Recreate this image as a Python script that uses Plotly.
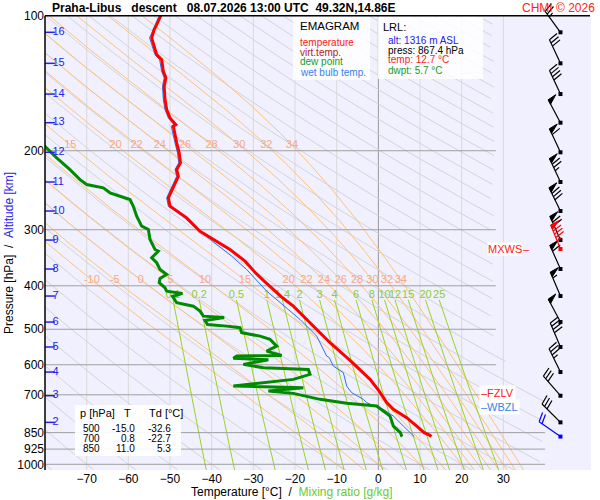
import numpy as np
import plotly.graph_objects as go

FONT = "Liberation Sans, Arial, sans-serif"

# axis frame: x = temperature (degC), y = pressure (hPa, log)
T_MIN, T_MAX = -80.0, 51.03
LOGP_BOTTOM, LOGP_TOP = 3.0127, 1.965

pressure_ticks = [100, 200, 300, 400, 500, 600, 700, 850, 925, 1000]
pressure_lines_upper = [200, 300, 400, 500, 600, 700]
pressure_lines_lower = [850, 925, 1000]
temp_ticks = [-70, -60, -50, -40, -30, -20, -10, 0, 10, 20, 30]
dry_theta = list(range(-80, 320, 10))
wet_theta = [-10, -5, 0, 5, 10, 15, 20, 22, 24, 26, 28, 30, 32, 34]
mix_ratio = [0.1, 0.2, 0.5, 1, 1.4, 2, 3, 4, 6, 8, 10, 12, 15, 20, 25]
mix_labels = ["0.1", "0.2", "0.5", "1", "1.4", "2", "3", "4", "6", "8", "10", "12", "15", "20", "25"]

# altitude scale (km -> hPa)
alt_km = [2, 3, 4, 5, 6, 7, 8, 9, 10, 11, 12, 13, 14, 15, 16]
alt_p = [806.3, 703.3, 622.8, 547.7, 481.8, 421.6, 367.0, 316.3, 272.5, 234.8, 201.6, 173.2, 149.5, 127.7, 108.9]

# sounding
temp_p = [100.0, 102.1, 104.7, 107.4, 112.1, 122.1, 125.3, 133.1, 137.6, 143.7, 153.8, 161.9, 169.0, 174.9,
          176.4, 192.1, 202.2, 212.9, 220.3, 228.0, 241.9, 254.7, 265.9, 270.4, 282.2, 302.3, 318.2, 332.0,
          352.5, 374.2, 390.6, 425.4, 444.1, 459.3, 492.0, 500.0, 535.8, 588.8, 614.4, 646.7, 686.7, 700.0,
          728.8, 754.3, 787.1, 821.7, 850.0, 861.8, 867.4]
temp_t = [-52.2, -52.6, -53.2, -53.8, -54.4, -53.2, -52.0, -51.6, -51.0, -51.4, -51.2, -50.8, -50.0, -48.6,
          -49.2, -48.4, -47.8, -47.5, -48.4, -48.0, -49.2, -50.4, -50.0, -48.8, -46.0, -42.8, -38.8, -35.6,
          -32.0, -29.5, -27.4, -23.0, -20.4, -18.8, -15.6, -15.0, -11.6, -6.6, -4.4, -2.0, 0.2, 0.8,
          2.0, 3.6, 6.8, 9.2, 11.0, 12.4, 12.7]

wetb_p = [100.0, 104.7, 112.1, 122.1, 125.3, 133.1, 137.6, 143.7, 153.8, 161.9, 169.0, 174.9, 176.4, 192.1,
          202.2, 212.9, 220.3, 228.0, 241.9, 254.7, 265.9, 270.4, 282.2, 294.6, 343.6, 367.9, 411.2, 440.2,
          475.4, 517.9, 554.5, 573.8, 578.0, 604.0, 624.8, 646.7, 669.3, 692.4, 716.5, 728.8, 741.6, 754.3,
          780.6, 821.7, 861.8, 867.4]
wetb_t = [-52.6, -53.6, -54.9, -53.6, -52.5, -52.0, -51.4, -51.8, -51.6, -51.2, -50.4, -49.1, -49.7, -48.8,
          -48.2, -47.9, -48.8, -48.4, -49.6, -50.8, -50.4, -49.2, -46.5, -44.4, -35.2, -31.6, -26.8, -23.0,
          -18.8, -14.8, -13.2, -12.4, -11.8, -10.8, -8.4, -8.0, -7.6, -6.4, -3.6, -2.8, -1.0, 1.2,
          3.6, 6.0, 8.4, 8.6]

dewp_p = [185.0, 195.5, 207.5, 220.3, 231.9, 237.9, 241.9, 248.2, 252.6, 256.9, 265.9, 279.9, 294.6, 299.6,
          315.4, 332.0, 334.9, 346.5, 355.4, 367.9, 377.4, 385.3, 393.8, 404.1, 411.2, 416.0, 422.5, 436.4,
          444.1, 455.6, 467.5, 470.6, 477.9, 487.8, 492.0, 496.1, 509.0, 517.9, 526.8, 545.2, 559.3, 571.8,
          573.8, 580.0, 585.0, 598.8, 609.0, 614.4, 630.3, 646.7, 669.3, 674.8, 686.7, 694.8, 716.5, 731.3,
          741.6, 760.9, 780.6, 821.7, 850.0, 864.9, 867.4]
dewp_t = [-84.0, -80.0, -77.2, -74.0, -71.6, -70.0, -66.0, -64.4, -62.0, -59.6, -58.8, -58.0, -56.8, -55.2,
          -54.8, -53.6, -52.8, -54.4, -53.2, -52.4, -50.8, -52.4, -52.6, -51.2, -50.8, -47.0, -49.4, -48.4,
          -44.4, -42.8, -42.0, -37.0, -41.6, -41.0, -36.4, -33.2, -32.8, -28.4, -26.0, -24.4, -26.8, -23.2,
          -34.0, -34.8, -26.4, -32.4, -27.6, -16.8, -16.4, -20.4, -34.8, -18.0, -26.4, -20.4, -14.0, -7.6,
          -0.4, 1.2, 2.8, 3.6, 5.3, 5.6, 5.7]

# winds (barbs)
wind_p = [108.9, 127.7, 149.5, 173.2, 201.6, 234.8, 272.5, 316.3, 331.2, 367.0, 421.6, 481.8, 547.7,
          622.8, 703.3, 806.3, 867.4]
wind_dir = [324, 335, 335, 332, 335, 335, 334, 336, 338, 336, 337, 332, 337, 334, 319, 315, 305]
wind_kt = [25, 30, 40, 50, 60, 75, 80, 70, 85, 60, 55, 50, 40, 35, 30, 30, 20]
wind_col = ["black"] * 8 + ["red"] + ["black"] * 7 + ["blue"]

# special levels
mxws_p = 331.2
fzlv_p = 693.8
wbzl_p = 745.5

# summary table
table_p = ["500", "700", "850"]
table_t = ["-15.0", "0.8", "11.0"]
table_td = ["-32.6", "-22.7", "5.3"]

# ---- thermodynamic helper lines ----
RD, CP, LV, EPS = 287.04, 1005.7, 2.501e6, 0.622


def sat_vap(tc):
    return 6.112 * np.exp(17.67 * tc / (tc + 243.5))


def moist_slope(tk, p):
    es = sat_vap(tk - 273.15)
    rs = EPS * es / (p - es)
    return (RD * tk + LV * rs) / (p * (CP + LV * LV * rs * EPS / (RD * tk * tk)))


def integrate(t0, levels):
    out = [t0]
    t = t0
    for p1, p2 in zip(levels[:-1], levels[1:]):
        dp = p2 - p1
        k1 = moist_slope(t, p1)
        k2 = moist_slope(t + 0.5 * dp * k1, p1 + 0.5 * dp)
        t = t + dp * k2
        out.append(t)
    return np.array(out)


up = np.arange(1000.0, 99.0, -2.0)
down = np.arange(1000.0, 1032.0, 2.0)
tw0 = np.array(wet_theta, dtype=float) + 273.15
moist_p = np.concatenate([down[::-1], up[1:]])
moist_t = np.vstack([integrate(tw0, down)[::-1], integrate(tw0, up)[1:]]) - 273.15


def td_from_w(w, p):
    e = p * w / (EPS * 1000.0 + w)
    a = np.log(e / 6.112)
    return 243.5 * a / (17.67 - a)


def joined(xs_list, ys_list):
    xs, ys = [], []
    for a, b in zip(xs_list, ys_list):
        xs += list(a) + [None]
        ys += list(b) + [None]
    return xs, ys


fig = go.Figure()

# isotherms
iso = [t for t in temp_ticks if t != 0]
x, y = joined([[t, t] for t in iso], [[100, 1030]] * len(iso))
fig.add_trace(go.Scatter(x=x, y=y, mode="lines", line=dict(color="#dadada", width=1)))
fig.add_trace(go.Scatter(x=[0, 0], y=[100, 1030], mode="lines", line=dict(color="#9a9a9a", width=1)))

# dry adiabats
dry_p = np.geomspace(100, 1030, 160)
t_end = np.interp(np.log(dry_p), np.log([560.0, 700.0]), [28.0, 40.0])
xs, ys = [], []
for th in dry_theta:
    t = (th + 273.15) * (dry_p / 1000.0) ** 0.2857 - 273.15
    xs.append([v if v <= e else None for v, e in zip(t, t_end)])
    ys.append(dry_p)
x, y = joined(xs, ys)
fig.add_trace(go.Scatter(x=x, y=y, mode="lines", line=dict(color="#d4d4d4", width=1)))

# pseudo-adiabats
x, y = joined([moist_t[:, j] for j in range(len(wet_theta))], [moist_p] * len(wet_theta))
fig.add_trace(go.Scatter(x=x, y=y, mode="lines", line=dict(color="#ffc27a", width=1)))

# mixing ratio lines
mix_p = np.geomspace(430, 1030, 40)
x, y = joined([td_from_w(w, mix_p) for w in mix_ratio], [mix_p] * len(mix_ratio))
fig.add_trace(go.Scatter(x=x, y=y, mode="lines", line=dict(color="#9ad41e", width=1)))

# isobars
x, y = joined([[-80, 28.2]] * len(pressure_lines_upper) + [[-80, 40]] * len(pressure_lines_lower),
              [[p, p] for p in pressure_lines_upper + pressure_lines_lower])
fig.add_trace(go.Scatter(x=x, y=y, mode="lines", line=dict(color="#a0a0a0", width=1)))

# labels of pseudo-adiabats
lab_x, lab_y, lab_t = [], [], []
for j, tw in enumerate(wet_theta):
    for pl in (194.2, 388.4):
        tl = float(np.interp(pl, moist_p[::-1], moist_t[::-1, j]))
        if -77 < tl < 29:
            lab_x.append(tl)
            lab_y.append(pl)
            lab_t.append(str(tw))
fig.add_trace(go.Scatter(x=lab_x, y=lab_y, text=lab_t, mode="text",
                         textfont=dict(color="#f6a888", size=11, family=FONT)))

# labels of mixing ratio lines
fig.add_trace(go.Scatter(x=[float(td_from_w(w, 430.0)) for w in mix_ratio], y=[419.4] * len(mix_ratio),
                         text=mix_labels, mode="text",
                         textfont=dict(color="#8ccc30", size=11, family=FONT)))

# sounding profiles
fig.add_trace(go.Scatter(x=wetb_t, y=wetb_p, mode="lines", line=dict(color="#2f6ff0", width=1)))
fig.add_trace(go.Scatter(x=dewp_t, y=dewp_p, mode="lines", line=dict(color="#008a00", width=3)))
fig.add_trace(go.Scatter(x=temp_t, y=temp_p, mode="lines", line=dict(color="#ff0000", width=3)))

# altitude scale
fig.add_trace(go.Scatter(x=[-78.8] * len(alt_p), y=alt_p, mode="markers",
                         marker=dict(symbol="line-ew", size=7, line=dict(color="#2424e8", width=1.5))))
fig.add_trace(go.Scatter(x=[-78.2] * len(alt_p), y=alt_p, text=[str(k) for k in alt_km], mode="text",
                         textposition="middle right",
                         textfont=dict(color="#2424e8", size=11, family=FONT)))

# wind barbs
BARB_T = 43.7
PX_PER_C = 546.0 / (T_MAX - T_MIN)
PX_PER_DEC = 470.0 / (LOGP_BOTTOM - LOGP_TOP)


def barb(p0, wdir, kt):
    a = np.radians(wdir)
    sx, sy = np.sin(a), -np.cos(a)
    bx, by = -sy, sx

    def pt(along, side):
        dx = sx * along + bx * side
        dy = sy * along + by * side
        return BARB_T + dx / PX_PER_C, 10 ** (np.log10(p0) + dy / PX_PER_DEC)

    segs = [[pt(0, 0), pt(26, 0)]]
    tris = []
    pos = 26.0
    n50, rest = divmod(int(round(kt / 5.0)) * 5, 50)
    n10, n5 = divmod(rest, 10)
    for _ in range(n50):
        tris.append([pt(pos, 0), pt(pos + 1, 9), pt(pos - 5, 0), pt(pos, 0)])
        pos -= 6.5
    for _ in range(n10):
        segs.append([pt(pos, 0), pt(pos + 2.5, 9.5)])
        pos -= 3.5
    if n5:
        segs.append([pt(pos, 0), pt(pos + 1.3, 5)])
    return segs, tris


for col in ["black", "red", "blue"]:
    lx, ly, fx, fy, dx, dy = [], [], [], [], [], []
    for p0, d, k, c in zip(wind_p, wind_dir, wind_kt, wind_col):
        if c != col:
            continue
        segs, tris = barb(p0, d, k)
        for s in segs:
            lx += [q[0] for q in s] + [None]
            ly += [q[1] for q in s] + [None]
        for s in tris:
            fx += [q[0] for q in s] + [None]
            fy += [q[1] for q in s] + [None]
        dx.append(BARB_T)
        dy.append(p0)
    fig.add_trace(go.Scatter(x=lx, y=ly, mode="lines", line=dict(color=col, width=1.2)))
    if fx:
        fig.add_trace(go.Scatter(x=fx, y=fy, mode="lines", fill="toself", fillcolor=col,
                                 line=dict(color=col, width=1)))
    fig.add_trace(go.Scatter(x=dx, y=dy, mode="markers", marker=dict(symbol="square", size=4, color=col)))


# ---- layout pieces (pixel helpers) ----
def px_x(v):
    return (v - 45) / 546.0


def px_y(v):
    return (470 - v) / 470.0


def note(xp, yp, text, size=10, color="black", anchor="left", **kw):
    return dict(xref="paper", yref="paper", x=px_x(xp), y=px_y(yp), text=text, showarrow=False,
                xanchor=anchor, yanchor="middle", font=dict(size=size, color=color, family=FONT), **kw)


def note_p(xp, p, text, size=10, color="black", anchor="left", **kw):
    yp = 15.7 + (np.log10(p) - 2.0) * 448.6
    return note(xp, yp, text, size, color, anchor, **kw)


NB = "\u00a0"
annotations = [
    note(50, 8, "<b>Praha-Libus" + NB * 3 + "descent" + NB * 3 + "08.07.2026 13:00 UTC" + NB * 2
         + "49.32N,14.86E</b>", size=12),
    note(597, 8, "CHMI © 2026", size=12, color="#ff2020", anchor="right"),
    note(298, 26, "EMAGRAM", size=11.5),
    note(298, 42, "temperature", color="#ff2020"),
    note(298, 52, "virt.temp.", color="#b02020"),
    note(298, 62, "dew point", color="#1a9a1a"),
    note(298, 72, "wet bulb temp.", color="#3a80f0"),
    note(381, 27, "LRL:", size=11),
    note(386, 40, "alt: 1316 m ASL", color="#2020f0"),
    note(386, 50, "press: 867.4 hPa"),
    note(386, 60, "temp: 12.7 °C", color="#ff2020"),
    note(386, 70, "dwpt: 5.7 °C", color="#1a9a1a"),
    note(78, 413, "p [hPa]", size=11),
    note(127, 413, "T", size=11, anchor="center"),
    note(147, 413, "Td [°C]", size=11),
    note_p(479, fzlv_p, "\u2013FZLV", size=11, color="#ff2020", bgcolor="white", borderpad=1),
    note_p(479, wbzl_p, "\u2013WBZL", size=11, color="#3a80f0", bgcolor="white", borderpad=1),
    note_p(487, mxws_p, "MXWS", size=11, color="#ff2020", bgcolor="white", borderpad=0),
    note_p(521, mxws_p, "\u2013", size=11, color="#ff2020"),
    note(292, 492, "Temperature [°C]" + NB * 2 + "/" + NB * 2
         + "<span style='color:#66cc33'>Mixing ratio [g/kg]</span>", size=12, anchor="center"),
    dict(xref="paper", yref="paper", x=px_x(9), y=px_y(253), showarrow=False, textangle=-90,
         xanchor="center", yanchor="middle", font=dict(size=12, color="black", family=FONT),
         text="Pressure [hPa]" + NB * 2 + "/" + NB * 2 + "<span style='color:#2424e8'>Altitude [km]</span>"),
]
for i, (a, b, c) in enumerate(zip(table_p, table_t, table_td)):
    yy = 428.3 + 10 * i
    annotations += [note(102, yy, a, anchor="right"), note(137, yy, b, anchor="right"),
                    note(173, yy, c, anchor="right")]

top_y = px_y(15.7)
shapes = [
    dict(type="rect", xref="paper", yref="paper", x0=0, x1=1, y0=0, y1=top_y,
         fillcolor="#f0f0ff", line=dict(width=0), layer="below"),
    dict(type="rect", xref="paper", yref="paper", x0=px_x(293), x1=px_x(370), y0=px_y(80), y1=px_y(16.5),
         fillcolor="rgba(255,255,255,0.85)", line=dict(width=0), layer="above"),
    dict(type="rect", xref="paper", yref="paper", x0=px_x(378), x1=px_x(483), y0=px_y(79), y1=px_y(16.5),
         fillcolor="rgba(255,255,255,0.85)", line=dict(width=0), layer="above"),
    dict(type="rect", xref="paper", yref="paper", x0=px_x(75), x1=px_x(181), y0=px_y(456), y1=px_y(405),
         fillcolor="rgba(255,255,255,0.9)", line=dict(width=0), layer="above"),
    dict(type="line", xref="paper", yref="paper", x0=0, x1=px_x(590), y0=top_y, y1=top_y,
         line=dict(color="black", width=1.5), layer="above"),
    dict(type="line", xref="paper", yref="paper", x0=0, x1=0, y0=0, y1=top_y,
         line=dict(color="black", width=1.5), layer="above"),
]

fig.update_layout(
    width=600, height=500,
    margin=dict(l=45, r=9, t=0, b=30),
    paper_bgcolor="white", plot_bgcolor="white",
    showlegend=False, hovermode=False,
    font=dict(family=FONT, size=12, color="black"),
    xaxis=dict(range=[T_MIN, T_MAX], tickvals=temp_ticks, showgrid=False, zeroline=False,
               showline=False, ticks="", tickfont=dict(size=12)),
    yaxis=dict(type="log", range=[LOGP_BOTTOM, LOGP_TOP], tickvals=pressure_ticks,
               ticktext=[str(p) for p in pressure_ticks], showgrid=False, zeroline=False,
               showline=False, ticks="", tickfont=dict(size=12)),
    annotations=annotations,
    shapes=shapes,
)

fig.write_html("out.html", config={"displayModeBar": False},
               post_script="document.body.style.margin='0px';")
